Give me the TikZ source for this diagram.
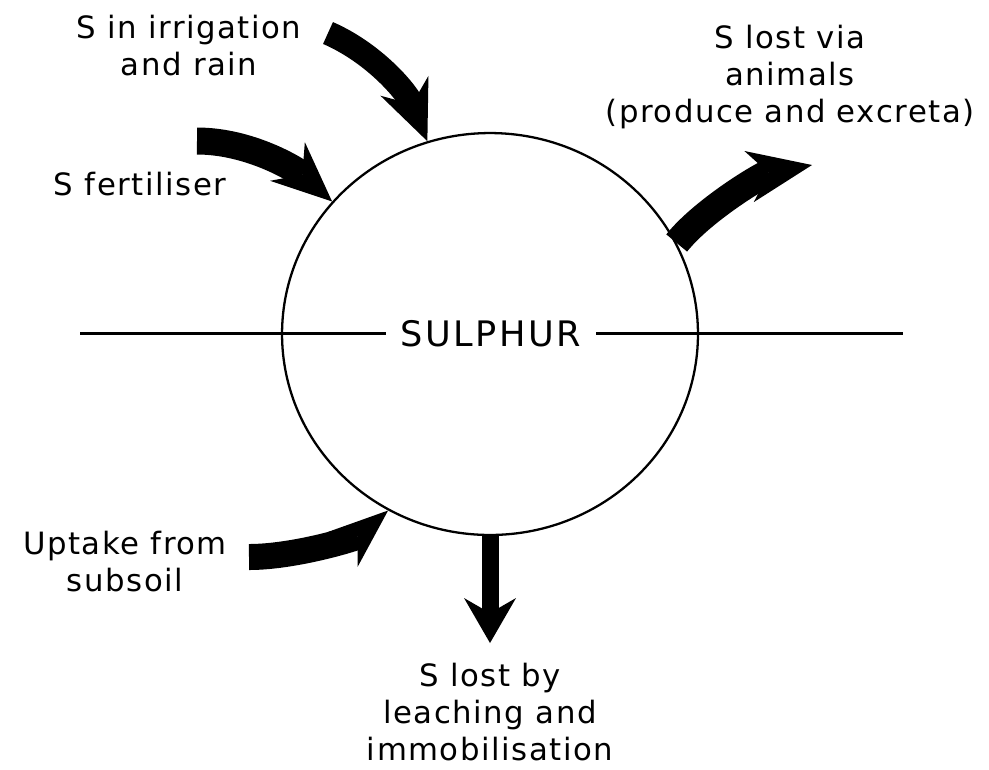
\documentclass[tikz,border=0pt]{standalone}
\usepackage{fontspec}
\usetikzlibrary{arrows.meta,shapes.geometric}
\newfontfamily\labelfont{DejaVu Sans}[LetterSpace=5]
\newfontfamily\poolfont{DejaVu Sans}[LetterSpace=7]

\begin{document}
\begin{tikzpicture}[x=0.02cm, y=-0.02cm,
    lbl/.style={align=center, anchor=base, inner sep=0pt,
      font=\labelfont\fontsize{17.5}{21}\selectfont},
    flow/.style={draw=black, line width=0.5cm,
      -{Stealth[length=1.2cm, width=1.04cm, inset=0.4cm, line width=0pt]}}]
    \useasboundingbox (0,0) rectangle (989,769);

    % the sulphur pool
    \node[ellipse, draw, line width=1.3pt, minimum width=8.32cm,
      minimum height=8.04cm, inner sep=0pt] (sul) at (490,334) {};
    \node[font=\poolfont\fontsize{20}{24}\selectfont, inner xsep=0.3cm,
      inner ysep=0pt] (pool) at (491,333.5) {SULPHUR};
    \coordinate (lineL) at (80,333.5);
    \coordinate (lineR) at (903,333.5);
    \draw[line width=1.2pt] (lineL) -- (pool.west);
    \draw[line width=1.2pt] (pool.east) -- (lineR);

    % labels (base = last line)
    \node[lbl] (irr) at (189,75) {S in irrigation\\and rain};
    \node[lbl] (fert) at (140,195) {S fertiliser};
    \node[lbl] (anim) at (790,122) {S lost via\\animals\\(produce and excreta)};
    \node[lbl] (upt) at (125,591) {Uptake from\\subsoil};
    \node[lbl] (leach) at (490,760) {S lost by\\leaching and\\immobilisation};

    % inputs
    \coordinate (irrtail) at (328,33);
    \coordinate (ferttail) at (197,141);
    \coordinate (upttail) at (249,557);
    \draw[flow, line width=0.48cm] (irrtail) .. controls (374,53) and (407,92) .. (sul.108);
    \draw[flow, line width=0.54cm] (ferttail) .. controls (250,141) and (297,170) .. (sul.140);
    \draw[flow, line width=0.52cm,
      -{Stealth[length=1.2cm, width=0.92cm, inset=0.4cm, line width=0pt]}]
      (upttail) .. controls (295,557) and (356,538) .. (sul.240);

    % losses
    \coordinate (animtip) at (812,165);
    \coordinate (leachtip) at (490,643);
    \draw[flow, line width=0.54cm,
      -{Stealth[length=1.28cm, width=1.04cm, inset=0.4cm, line width=0pt]}]
      (sul.26) .. controls (703,210) and (763,174) .. (animtip);
    \draw[flow, line width=0.34cm,
      -{Stealth[length=0.9cm, width=1.04cm, inset=0.3cm, line width=0pt]}]
      (sul.270) -- (leachtip);
\end{tikzpicture}
\end{document}
